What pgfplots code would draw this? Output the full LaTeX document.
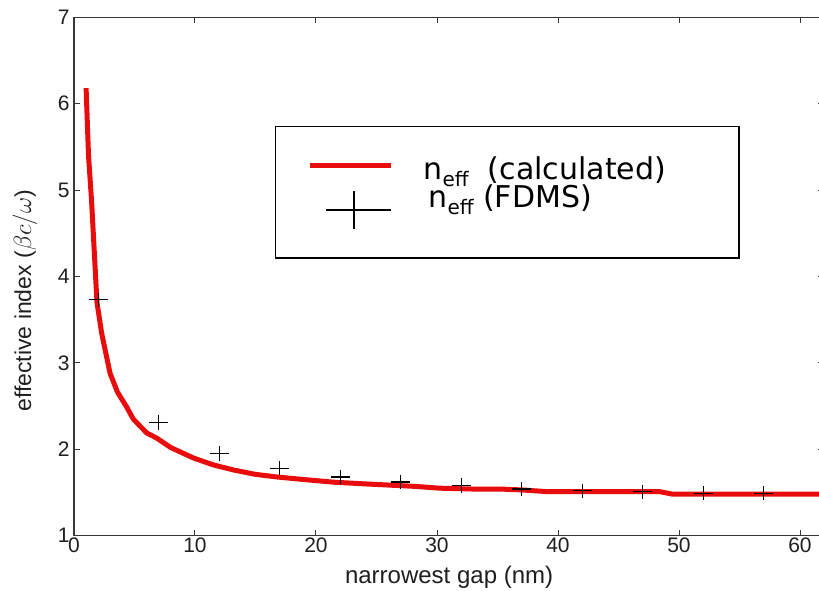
\documentclass[border=0pt]{standalone}
\usepackage{pgfplots}
\pgfplotsset{compat=1.18}
\usepackage{fontspec}
\setmainfont{Liberation Sans}
\newfontfamily\legfont{DejaVu Sans}
\definecolor{curvered}{RGB}{232,12,12}
\definecolor{axgray}{RGB}{55,55,55}

\pgfplotstableread{
x y
1.0 6.18
1.2 5.40
1.45 4.88
1.9 3.70
2.29 3.34
2.98 2.88
3.6 2.66
4.35 2.49
4.9 2.35
6.0 2.19
6.83 2.13
8.0 2.02
9.86 1.90
11.5 1.82
13.2 1.76
15.0 1.71
16.75 1.68
19.0 1.65
21.4 1.62
24.0 1.60
26.9 1.58
28.3 1.57
30.2 1.55
33.0 1.54
35.2 1.54
37.0 1.53
39.1 1.51
44.0 1.51
48.4 1.51
49.5 1.48
55.0 1.48
61.4 1.48
62.0 1.48
}\curvedata

\pgfplotstableread{
x y
2 3.73
7 2.31
12 1.95
17 1.78
22 1.68
27 1.62
32 1.58
37 1.54
42 1.52
47 1.51
52 1.49
57 1.49
}\fdmsdata

\begin{document}
\begin{tikzpicture}
\path[use as bounding box] (-74pt,-54.3pt) rectangle (745pt,535.7pt);
\begin{axis}[
  scale only axis,
  width=750.2pt, height=518.4pt,
  xmin=0, xmax=62, ymin=1, ymax=7,
  xtick={0,10,...,60}, ytick={1,2,...,7},
  tick align=inside,
  major tick length=6pt,
  axis line style={axgray, line width=1.4pt},
  every tick/.style={axgray, line width=1pt},
  tick label style={font=\fontsize{21}{24}\selectfont, text=black!88},
  /pgf/number format/assume math mode=true,
  xticklabel style={yshift=1pt},
  yticklabel style={xshift=-1pt},
  xlabel={narrowest gap (nm)},
  ylabel={effective index ($\beta c/\omega$)},
  xlabel style={font=\fontsize{24}{28}\selectfont, text=black!88, at={(axis description cs:0.5,-0.0916)}, anchor=base},
  ylabel style={font=\fontsize{23}{27}\selectfont, text=black!88, at={(axis description cs:-0.0653,0.453)}, anchor=center},
  legend style={at={(axis description cs:0.268,0.790)}, anchor=north west,
    draw=black, line width=1.2pt, fill=white,
    inner xsep=32pt, inner ysep=28pt,
    font=\legfont\fontsize{30}{34}\selectfont,
    cells={anchor=west},
    row sep=0pt},
  legend cell align=left,
]
\addplot[curvered, line width=5pt, line join=round,
  legend image code/.code={
    \draw[curvered, line width=5pt] (0pt,3pt) -- (81pt,3pt);
    \path (109pt,0pt);
  }] table[x=x,y=y] {\curvedata};
\addlegendentry{n{\fontsize{20}{22}\selectfont\raisebox{-7pt}{eff}}\ \ (calculated)\rule{39pt}{0pt}}
\addplot[only marks, mark=+, black, mark size=9.5pt, mark options={line width=1.3pt, yscale=0.75},
  legend image code/.code={
    \draw[black, line width=1.5pt] (16pt,-13pt) -- (81pt,-13pt);
    \draw[black, line width=1.5pt] (44pt,-32pt) -- (44pt,6pt);
    \path (109pt,0pt);
  }] table[x=x,y=y] {\fdmsdata};
\addlegendentry{\,n{\fontsize{20}{22}\selectfont\raisebox{-7pt}{eff}} (FDMS)}
\end{axis}
\end{tikzpicture}
\end{document}
